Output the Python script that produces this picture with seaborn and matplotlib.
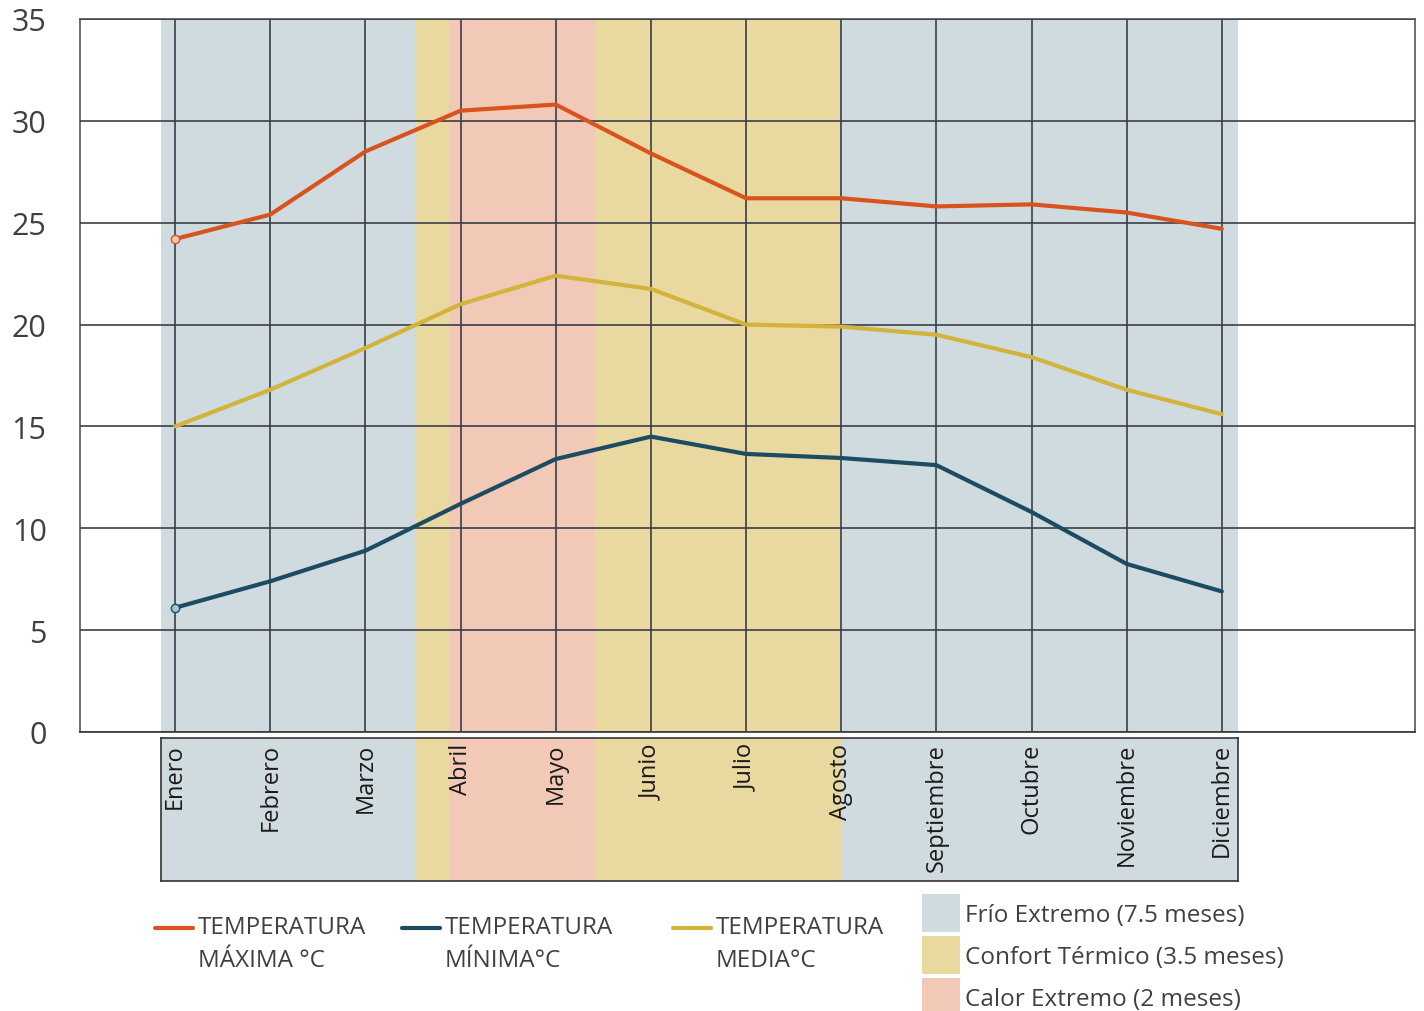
## Temperaturas mensuales con zonas de confort

import numpy as np
import pandas as pd
import seaborn as sns
import matplotlib.pyplot as plt
from matplotlib.lines import Line2D
from matplotlib.patches import Patch

meses = ["Enero", "Febrero", "Marzo", "Abril", "Mayo", "Junio", "Julio",
         "Agosto", "Septiembre", "Octubre", "Noviembre", "Diciembre"]
t_max = [24.2, 25.4, 28.5, 30.5, 30.8, 28.4, 26.2, 26.2, 25.8, 25.9, 25.5, 24.7]
t_min = [6.1, 7.4, 8.9, 11.2, 13.4, 14.5, 13.65, 13.45, 13.1, 10.8, 8.25, 6.9]
t_med = [15.0, 16.8, 18.85, 21.0, 22.4, 21.75, 20.0, 19.9, 19.5, 18.4, 16.8, 15.6]

# zonas (inicio, fin en posicion de mes, tipo)
zonas_ini = [-0.15, 2.52, 2.88, 4.41, 7.0]
zonas_fin = [2.52, 2.88, 4.41, 7.0, 11.17]
zonas_tipo = ["frio", "confort", "calor", "confort", "frio"]
zonas_label = {"frio": "Frío Extremo (7.5 meses)",
               "confort": "Confort Térmico (3.5 meses)",
               "calor": "Calor Extremo (2 meses)"}

col_zona = {"frio": "#d0dbe0", "confort": "#e9d8a0", "calor": "#f2c9b6"}
col_max = "#d9531e"
col_min = "#1b4c61"
col_med = "#d2b43c"

sns.set_theme(style="white")
plt.rcParams['font.family'] = ['Open Sans', 'DejaVu Sans']

W, H = 1424, 1012
fig = plt.figure(figsize=(W / 100, H / 100), dpi=100)

# ejes principales
ax_l, ax_r, ax_t, ax_b = 80, 1415, 20, 733
xmin, xmax = -1.0, 13.03
ax = fig.add_axes([ax_l / W, 1 - ax_b / H, (ax_r - ax_l) / W, (ax_b - ax_t) / H])
ppu = (ax_r - ax_l) / (xmax - xmin)

for a, b, t in zip(zonas_ini, zonas_fin, zonas_tipo):
    ax.axvspan(a, b, color=col_zona[t], lw=0, zorder=0.5)

df = pd.DataFrame({"x": np.arange(12), "max": t_max, "min": t_min, "med": t_med})
sns.lineplot(data=df, x="x", y="max", color=col_max, lw=3.0, ax=ax, zorder=4,
             marker="o", markevery=[0], ms=6, mfc="#f0c8b0", mec=col_max, mew=1)
sns.lineplot(data=df, x="x", y="med", color=col_med, lw=3.0, ax=ax, zorder=3)
sns.lineplot(data=df, x="x", y="min", color=col_min, lw=3.0, ax=ax, zorder=4,
             marker="o", markevery=[0], ms=6, mfc="#a9c3d6", mec=col_min, mew=1)

ax.set_xlim(xmin, xmax)
ax.set_ylim(0, 35)
ax.set_xticks(np.arange(12))
ax.set_xticklabels([])
ax.set_yticks(np.arange(0, 36, 5))
ax.tick_params(axis="y", length=0, pad=24, labelsize=22, labelcolor="#404040")
ax.tick_params(axis="x", length=0)
ax.grid(True, color="#3a3e48", lw=1.2)
ax.set_axisbelow(False)
ax.set_xlabel("")
ax.set_ylabel("")
for s in ["left", "right", "top", "bottom"]:
    ax.spines[s].set_visible(True)
    ax.spines[s].set_color("#555555")
    ax.spines[s].set_linewidth(1.2)
ax.spines["bottom"].set_color("#333333")

# caja de etiquetas de meses
bx_l = ax_l + (zonas_ini[0] - xmin) * ppu
bx_r = ax_l + (zonas_fin[-1] - xmin) * ppu
bx_t, bx_b = 739, 882
bax = fig.add_axes([bx_l / W, 1 - bx_b / H, (bx_r - bx_l) / W, (bx_b - bx_t) / H])
for a, b, t in zip(zonas_ini, zonas_fin, zonas_tipo):
    bax.axvspan(a, b, color=col_zona[t], lw=0)
bax.set_xlim(zonas_ini[0], zonas_fin[-1])
bax.set_ylim(0, 1)
bax.set_xticks([])
bax.set_yticks([])
for s in bax.spines.values():
    s.set_visible(True)
    s.set_color("#333333")
    s.set_linewidth(1.2)
for i, m in enumerate(meses):
    bax.text(i, 0.965, m, rotation=90, ha="center", va="top",
             fontsize=17, color="#1a1a1a")

# leyenda de lineas
series = [("TEMPERATURA\nMÁXIMA °C", col_max, 155),
          ("TEMPERATURA\nMÍNIMA°C", col_min, 402),
          ("TEMPERATURA\nMEDIA°C", col_med, 673)]
for lab, c, px in series:
    lg = fig.legend(handles=[Line2D([0], [0], color=c, lw=3.0)], labels=[lab],
                    loc="center left", bbox_to_anchor=(px / W, 1 - 948 / H),
                    frameon=False, fontsize=17.5, handlelength=1.56,
                    handleheight=5.2, handletextpad=0.2, labelcolor="#404040",
                    borderaxespad=0, borderpad=0)
    for t in lg.get_texts():
        t.set_linespacing(1.5)

# leyenda de zonas
handles = [Patch(facecolor=col_zona[k], edgecolor="none") for k in ["frio", "confort", "calor"]]
fig.legend(handles=handles, labels=[zonas_label[k] for k in ["frio", "confort", "calor"]],
           loc="upper left", bbox_to_anchor=(922 / W, 1 - 895 / H), frameon=False,
           fontsize=17.5, handlelength=1.56, handleheight=2.03, handletextpad=0.2,
           labelspacing=0.17, labelcolor="#404040", borderaxespad=0, borderpad=0)

fig.savefig("out.png", dpi=100)
